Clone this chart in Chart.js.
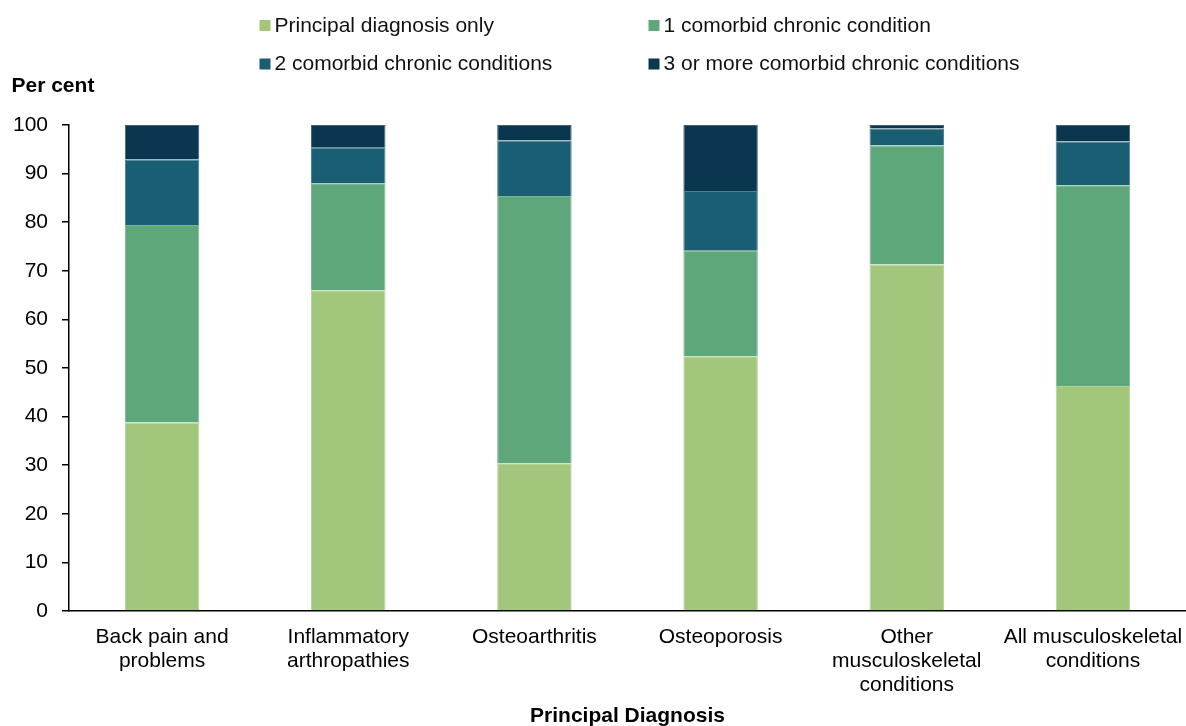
<!DOCTYPE html>
<html>
<head>
<meta charset="utf-8">
<title>Comorbid chronic conditions by principal diagnosis</title>
<script src="https://cdn.jsdelivr.net/npm/chart.js@4.4.1/dist/chart.umd.min.js"></script>
<style>
  html, body { margin: 0; padding: 0; background: #ffffff; }
  #wrap { position: relative; width: 1186px; height: 726px; }
</style>
</head>
<body>
<div id="wrap"><canvas id="chart"></canvas></div>
<script>
// Categories (principal diagnosis), multi-line labels as drawn under the axis
const categories = [
  ['Back pain and', 'problems'],
  ['Inflammatory', 'arthropathies'],
  'Osteoarthritis',
  'Osteoporosis',
  ['Other', 'musculoskeletal', 'conditions'],
  ['All musculoskeletal', 'conditions']
];

// Series names
const seriesNames = [
  'Principal diagnosis only',
  '1 comorbid chronic condition',
  '2 comorbid chronic conditions',
  '3 or more comorbid chronic conditions'
];

// Per cent of each diagnosis group
const principalOnly     = [38.8, 66.0, 30.4, 52.4, 71.3, 46.3];
const oneComorbid       = [40.6, 22.0, 55.0, 21.7, 24.5, 41.3];
const twoComorbid       = [13.5,  7.3, 11.4, 12.3,  3.5,  9.0];
const threePlusComorbid = [ 7.1,  4.7,  3.2, 13.6,  0.7,  3.4];

// Y axis ticks
const yTicks = [0, 10, 20, 30, 40, 50, 60, 70, 80, 90, 100];

const yAxisTitle = 'Per cent';
const xAxisTitle = 'Principal Diagnosis';

const seriesColors = ['#A2C77C', '#5EA77A', '#195E72', '#0B364F'];
// Slightly lighter edge for each segment
const edgeColors = ['#B6D397', '#7DB593', '#4A808F', '#3F6178'];
const FONT = 'Arial, "Liberation Sans", Helvetica, sans-serif';

const seriesValues = [principalOnly, oneComorbid, twoComorbid, threePlusComorbid];

// Legend (two columns, two rows) and the axis titles
const extraText = {
  id: 'extraText',
  afterDraw(chart) {
    const ctx = chart.ctx;
    ctx.save();
    ctx.textBaseline = 'alphabetic';
    ctx.textAlign = 'left';
    ctx.font = '21px ' + FONT;
    chart.data.datasets.forEach((ds, i) => {
      const col = i % 2;
      const row = Math.floor(i / 2);
      const bx = col ? 648.5 : 259.5;
      const by = row ? 58.5 : 20;
      ctx.fillStyle = ds.backgroundColor;
      ctx.fillRect(bx, by, 11, 11);
      ctx.fillStyle = '#111111';
      ctx.fillText(ds.label, bx + 15, row ? 70 : 32.3);
    });
    ctx.font = 'bold 21px ' + FONT;
    ctx.fillStyle = '#000000';
    ctx.fillText(yAxisTitle, 11.5, 92);
    const a = chart.chartArea;
    ctx.textAlign = 'center';
    ctx.fillText(xAxisTitle, (a.left + a.right) / 2, 721.5);
    ctx.restore();
  }
};

new Chart(document.getElementById('chart'), {
  type: 'bar',
  data: {
    labels: categories,
    datasets: seriesNames.map((name, i) => ({
      label: name,
      data: seriesValues[i],
      backgroundColor: seriesColors[i],
      borderColor: edgeColors[i],
      borderWidth: 1,
      barPercentage: 0.4,
      categoryPercentage: 1.0
    }))
  },
  options: {
    responsive: true,
    maintainAspectRatio: false,
    animation: false,
    layout: { padding: { top: 125, left: 0, right: 0, bottom: 0 } },
    plugins: {
      legend: { display: false },
      tooltip: { enabled: false },
      title: { display: false }
    },
    scales: {
      x: {
        stacked: true,
        grid: { display: false, drawTicks: false },
        border: { display: true, color: '#000000', width: 1.5 },
        ticks: {
          color: '#000000',
          padding: 14,
          maxRotation: 0,
          autoSkip: false,
          font: { family: FONT, size: 21, lineHeight: '24px' }
        },
        afterFit(scale) {
          scale.height = 115;
          scale.paddingLeft = 0;
          scale.paddingRight = 0;
        }
      },
      y: {
        stacked: true,
        min: 0,
        max: 100,
        afterBuildTicks(scale) {
          scale.ticks = yTicks.map(v => ({ value: v }));
        },
        grid: {
          display: true,
          drawOnChartArea: false,
          drawTicks: true,
          tickLength: 7,
          tickColor: '#000000',
          lineWidth: 1.5
        },
        border: { display: true, color: '#000000', width: 1.5 },
        ticks: {
          color: '#000000',
          padding: 14,
          font: { family: FONT, size: 21 }
        },
        afterFit(scale) {
          scale.width = 69;
        }
      }
    }
  },
  plugins: [extraText]
});
</script>
</body>
</html>
